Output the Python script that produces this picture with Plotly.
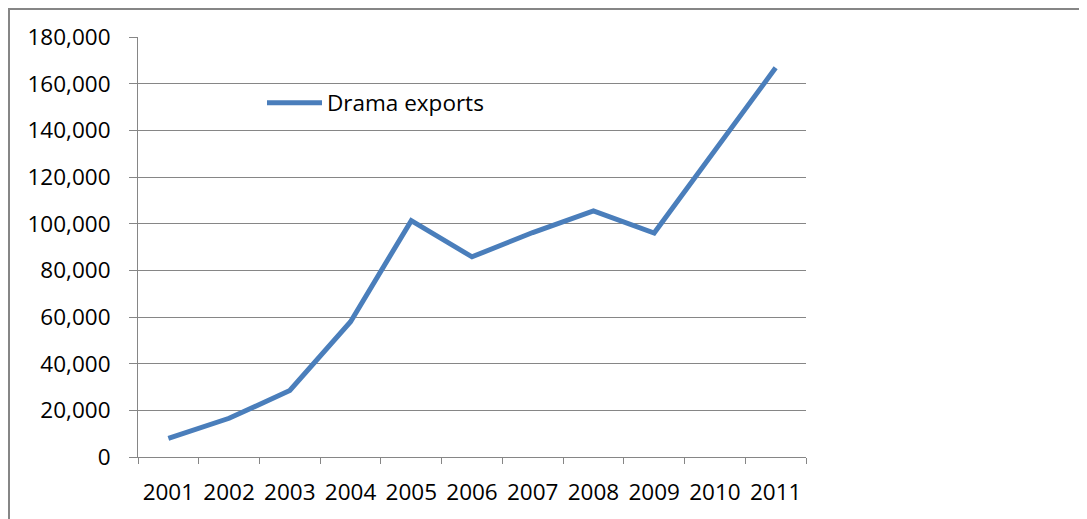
import plotly.graph_objects as go

years = ["2001", "2002", "2003", "2004", "2005", "2006", "2007", "2008", "2009", "2010", "2011"]
drama_exports = [8000, 16600, 28500, 58000, 101300, 85800, 96200, 105500, 96000, 131000, 166800]
y_ticks = [0, 20000, 40000, 60000, 80000, 100000, 120000, 140000, 160000, 180000]

W, H = 1087, 519
OFF = 8  # page body margin
L, T = 138 - OFF, 37 - OFF
pw, ph = 806 - 138, 457 - 37
R, B = W - L - pw, H - T - ph

grey = "#868686"
font = dict(family="'Open Sans', Lato, sans-serif", size=22.5, color="#000000")

fig = go.Figure()
fig.add_trace(go.Scatter(
    x=years, y=drama_exports, mode="lines", name="Drama exports",
    line=dict(color="#4a7ebb", width=5),
))

fig.update_layout(
    width=W, height=H,
    margin=dict(l=L, r=R, t=T, b=B, pad=0),
    paper_bgcolor="white", plot_bgcolor="white",
    font=font,
    showlegend=True,
    legend=dict(x=(262 - 138) / pw, y=1 - (103 - 37) / ph, xanchor="left", yanchor="middle",
                bgcolor="rgba(0,0,0,0)", font=font, itemwidth=55),
    xaxis=dict(type="category", range=[-0.5, 10.5], showgrid=False,
               showline=True, linecolor=grey, linewidth=1,
               ticks="outside", tickson="boundaries", ticklen=6, tickcolor=grey,
               ticklabelstandoff=15, fixedrange=True),
    yaxis=dict(range=[0, 180000], tickvals=y_ticks, tickformat=",",
               showgrid=True, gridcolor=grey, gridwidth=1,
               showline=True, linecolor=grey, linewidth=1,
               ticks="outside", ticklen=8, tickcolor=grey, zeroline=False,
               ticklabelstandoff=14, fixedrange=True),
    shapes=[dict(type="rect", xref="paper", yref="paper",
                 x0=(9 - 138) / pw, x1=(1300 - 138) / pw,
                 y0=1 - (800 - 37) / ph, y1=1 + (37 - 9) / ph,
                 line=dict(color=grey, width=2), fillcolor="rgba(0,0,0,0)", layer="below")],
)

fig.write_html("out.html")
